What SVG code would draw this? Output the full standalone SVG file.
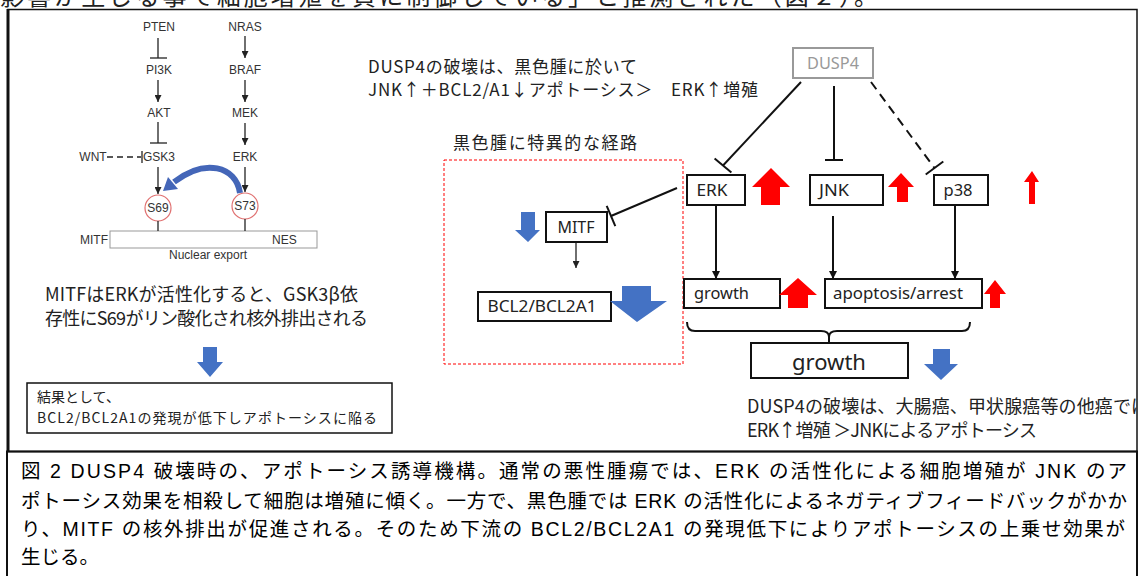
<svg xmlns="http://www.w3.org/2000/svg" width="1142" height="576" viewBox="0 0 1142 576">
<style>
.jp{font-family:"Noto Sans CJK JP","Liberation Sans",sans-serif;fill:#222}
.cap{font-family:"Liberation Sans","Noto Sans CJK JP",sans-serif;font-size:19.5px;fill:#000}
.lp{font-family:"Liberation Sans",Arial,sans-serif;font-size:12px;fill:#333}
.lbl{font-family:"Noto Sans","Noto Sans CJK JP",sans-serif;font-size:16px;fill:#222}
.box{fill:#fff;stroke:#111;stroke-width:2}
.ln{stroke:#111;stroke-width:2;fill:none}
.thin{stroke:#222;stroke-width:1.3;fill:none}
.red{fill:#ff0000}
.blue{fill:#4472c4}
</style>
<defs>
<marker id="ah" viewBox="0 0 10 10" refX="10" refY="5" markerWidth="8" markerHeight="9" markerUnits="userSpaceOnUse" orient="auto">
<path d="M0,0 L10,5 L0,10 z" fill="#111"/>
</marker>
<marker id="ahs" viewBox="0 0 10 10" refX="10" refY="5" markerWidth="10" markerHeight="7" markerUnits="userSpaceOnUse" orient="auto">
<path d="M0,0 L10,5 L0,10 z" fill="#222"/>
</marker>
<clipPath id="frame"><rect x="0" y="0" width="1137" height="452"/></clipPath>
</defs>

<!-- cut-off text at top -->
<text class="jp" x="0" y="5" font-size="24" textLength="878" lengthAdjust="spacing" fill="#222">影響が生じる事で細胞増殖を負に制御している」と推測された（図２）。</text>

<!-- frames -->
<rect x="8" y="9.5" width="1129" height="442" fill="none" stroke="#111" stroke-width="1.5"/>
<line x1="8" y1="9" x2="8" y2="452" stroke="#111" stroke-width="3"/>
<rect x="7" y="451.5" width="1130" height="130" fill="none" stroke="#111" stroke-width="2"/>

<!-- left panel -->
<g id="left-pathway">
<text class="lp" x="159" y="31" text-anchor="middle">PTEN</text>
<text class="lp" x="245" y="31" text-anchor="middle">NRAS</text>
<text class="lp" x="159" y="74" text-anchor="middle">PI3K</text>
<text class="lp" x="245" y="74" text-anchor="middle">BRAF</text>
<text class="lp" x="159" y="117" text-anchor="middle">AKT</text>
<text class="lp" x="245" y="117" text-anchor="middle">MEK</text>
<text class="lp" x="93" y="161" text-anchor="middle">WNT</text>
<text class="lp" x="159" y="161" text-anchor="middle">GSK3</text>
<text class="lp" x="245" y="161" text-anchor="middle">ERK</text>
<circle cx="158" cy="208" r="13" fill="#fff" stroke="#e07070" stroke-width="1.2"/>
<circle cx="245" cy="206" r="13" fill="#fff" stroke="#e07070" stroke-width="1.2"/>
<text class="lp" x="158" y="212" text-anchor="middle">S69</text>
<text class="lp" x="245" y="210" text-anchor="middle">S73</text>
<rect x="110" y="231" width="207" height="17" fill="#fff" stroke="#999" stroke-width="1"/>
<text class="lp" x="80" y="244">MITF</text>
<text class="lp" x="272" y="244">NES</text>
<text class="lp" x="208" y="259" text-anchor="middle">Nuclear export</text>
</g>
<g id="left-connectors">
<line class="thin" x1="158" y1="38" x2="158" y2="58"/>
<line class="thin" x1="150" y1="58" x2="167" y2="58"/>
<line class="thin" x1="158" y1="80" x2="158" y2="102" marker-end="url(#ahs)"/>
<line class="thin" x1="158" y1="122" x2="158" y2="143"/>
<line class="thin" x1="150" y1="143" x2="167" y2="143"/>
<line class="thin" x1="107" y1="157" x2="141" y2="157" stroke-dasharray="6,4"/>
<line class="thin" x1="142" y1="151" x2="142" y2="163"/>
<line class="thin" x1="245" y1="36" x2="245" y2="58" marker-end="url(#ahs)"/>
<line class="thin" x1="245" y1="80" x2="245" y2="102" marker-end="url(#ahs)"/>
<line class="thin" x1="245" y1="123" x2="245" y2="145" marker-end="url(#ahs)"/>
<line class="thin" x1="158" y1="167" x2="158" y2="194" marker-end="url(#ahs)"/>
<line class="thin" x1="245" y1="167" x2="245" y2="192" marker-end="url(#ahs)"/>
<line class="thin" x1="158" y1="221" x2="158" y2="231"/>
<line class="thin" x1="245" y1="219" x2="245" y2="231"/>
<path d="M240,193 C236,166 205,158 174,182" fill="none" stroke="#4466b8" stroke-width="6"/>
<polygon points="163,191 168,177 178,189" fill="#4466b8"/>
</g>

<g id="left-text">
<text class="jp" x="45" y="301" font-size="18" textLength="313" lengthAdjust="spacing">MITFはERKが活性化すると、GSK3β依</text>
<text class="jp" x="45" y="325" font-size="18" textLength="323" lengthAdjust="spacing">存性にS69がリン酸化され核外排出される</text>
</g>
<polygon class="blue" points="203,347 217,347 217,362 223,362 210,377 197,362 203,362"/>
<g id="result-box">
<rect x="27" y="383" width="365" height="50" fill="#fff" stroke="#111" stroke-width="1.5"/>
<text class="jp" x="37" y="402" font-size="14">結果として、</text>
<text class="jp" x="37" y="423" font-size="14" textLength="340" lengthAdjust="spacing">BCL2/BCL2A1の発現が低下しアポトーシスに陥る</text>
</g>

<!-- middle texts -->
<text class="jp" x="368" y="73" font-size="17" textLength="269" lengthAdjust="spacing">DUSP4の破壊は、黒色腫に於いて</text>
<text class="jp" x="368" y="96" font-size="17" textLength="390" lengthAdjust="spacing">JNK↑＋BCL2/A1↓アポトーシス＞　ERK↑増殖</text>
<text class="jp" x="453" y="149" font-size="17" textLength="184" lengthAdjust="spacing">黒色腫に特異的な経路</text>

<rect id="melanoma-region" x="444" y="160" width="239" height="204" fill="none" stroke="#ff0000" stroke-width="1" stroke-dasharray="3,2"/>

<g id="node-MITF">
<rect class="box" x="546" y="212" width="61" height="30"/>
<text class="lbl" x="576" y="233" text-anchor="middle">MITF</text>
</g>
<polygon class="blue" points="521,212 535,212 535,230 540,230 528,242 515,230 521,230"/>
<g id="node-BCL2">
<rect class="box" x="478" y="292" width="133" height="29"/>
<text class="lbl" x="542" y="312" text-anchor="middle" textLength="109" lengthAdjust="spacingAndGlyphs">BCL2/BCL2A1</text>
</g>
<polygon class="blue" points="622,286 651,286 651,301 667,301 637,322 610,301 622,301"/>

<g id="node-DUSP4">
<rect x="793" y="48" width="80" height="30" fill="#fff" stroke="#999" stroke-width="2"/>
<text class="lbl" x="833" y="69" text-anchor="middle" style="fill:#999" textLength="52" lengthAdjust="spacingAndGlyphs">DUSP4</text>
</g>
<g id="node-ERK">
<rect class="box" x="687" y="175" width="58" height="30"/>
<text class="lbl" x="712" y="196" text-anchor="middle" textLength="31" lengthAdjust="spacingAndGlyphs">ERK</text>
</g>
<polygon class="red" points="761,205 780,205 780,187 790,187 771,168 752,187 761,187"/>
<g id="node-JNK">
<rect class="box" x="810" y="175" width="73" height="30"/>
<text class="lbl" x="834" y="196" text-anchor="middle" textLength="30" lengthAdjust="spacingAndGlyphs">JNK</text>
</g>
<polygon class="red" points="897,202 908,202 908,187 914,187 901,173 888,187 897,187"/>
<g id="node-p38">
<rect class="box" x="934" y="175" width="54" height="30"/>
<text class="lbl" x="958" y="196" text-anchor="middle" textLength="29" lengthAdjust="spacingAndGlyphs">p38</text>
</g>
<polygon class="red" points="1029,204 1035,204 1035,182 1039,182 1032,171 1024,182 1029,182"/>

<g id="node-growth">
<rect class="box" x="684" y="279" width="96" height="29"/>
<text class="lbl" x="694" y="299" textLength="55" lengthAdjust="spacingAndGlyphs">growth</text>
</g>
<polygon class="red" points="788,308 808,308 808,295 817,295 798,278 779,295 788,295"/>
<g id="node-apoptosis">
<rect class="box" x="825" y="279" width="157" height="29"/>
<text class="lbl" x="833" y="299" textLength="130" lengthAdjust="spacingAndGlyphs">apoptosis/arrest</text>
</g>
<polygon class="red" points="990,308 1000,308 1000,294 1006,294 995,280 984,294 990,294"/>

<g id="node-growth-result">
<rect class="box" x="751" y="343" width="157" height="35"/>
<text class="lbl" x="829" y="370" text-anchor="middle" style="font-size:22px" textLength="74" lengthAdjust="spacingAndGlyphs">growth</text>
</g>
<polygon class="blue" points="933,349 950,349 950,364 958,364 941,380 924,364 933,364"/>

<g id="connectors">
<line class="ln" x1="801" y1="82" x2="723" y2="165.5"/>
<line class="ln" x1="714.6" y1="158.4" x2="731.4" y2="172.6"/>
<line class="ln" x1="834" y1="86" x2="834" y2="160"/>
<line class="ln" x1="825" y1="160" x2="843" y2="160"/>
<line class="ln" x1="871" y1="82" x2="934.5" y2="168" stroke-dasharray="9,6"/>
<line class="ln" x1="925.7" y1="174.5" x2="943.3" y2="161.5"/>
<line class="ln" x1="677" y1="188" x2="611" y2="216"/>
<line class="ln" x1="606.7" y1="205.9" x2="615.3" y2="226.1"/>
<line class="thin" x1="576" y1="243" x2="576" y2="268" marker-end="url(#ahs)"/>
<line class="ln" x1="716" y1="205" x2="716" y2="279" marker-end="url(#ah)"/>
<line class="ln" x1="833" y1="216" x2="833" y2="279" marker-end="url(#ah)"/>
<line class="ln" x1="955" y1="205" x2="955" y2="279" marker-end="url(#ah)"/>
<path class="ln" d="M687,322 Q687,331 695,331 L821,331 Q829,331 829,337 Q829,331 837,331 L962,331 Q970,331 970,322"/>
<line class="ln" x1="829" y1="334" x2="829" y2="343"/>
</g>

<g clip-path="url(#frame)">
<text class="jp" x="747" y="413" font-size="18" textLength="402" lengthAdjust="spacing">DUSP4の破壊は、大腸癌、甲状腺癌等の他癌では</text>
</g>
<text class="jp" x="747" y="437" font-size="18" textLength="290" lengthAdjust="spacing">ERK↑増殖 ＞JNKによるアポトーシス</text>

<!-- caption -->
<g id="caption">
<text class="cap" x="21" y="478" textLength="1106" lengthAdjust="spacing">図 2 DUSP4 破壊時の、アポトーシス誘導機構。通常の悪性腫瘍では、ERK の活性化による細胞増殖が JNK のア</text>
<text class="cap" x="21" y="508" textLength="1106" lengthAdjust="spacing">ポトーシス効果を相殺して細胞は増殖に傾く。一方で、黒色腫では ERK の活性化によるネガティブフィードバックがかか</text>
<text class="cap" x="21" y="536" textLength="1104" lengthAdjust="spacing">り、MITF の核外排出が促進される。そのため下流の BCL2/BCL2A1 の発現低下によりアポトーシスの上乗せ効果が</text>
<text class="cap" x="21" y="564">生じる。</text>
</g>
</svg>
